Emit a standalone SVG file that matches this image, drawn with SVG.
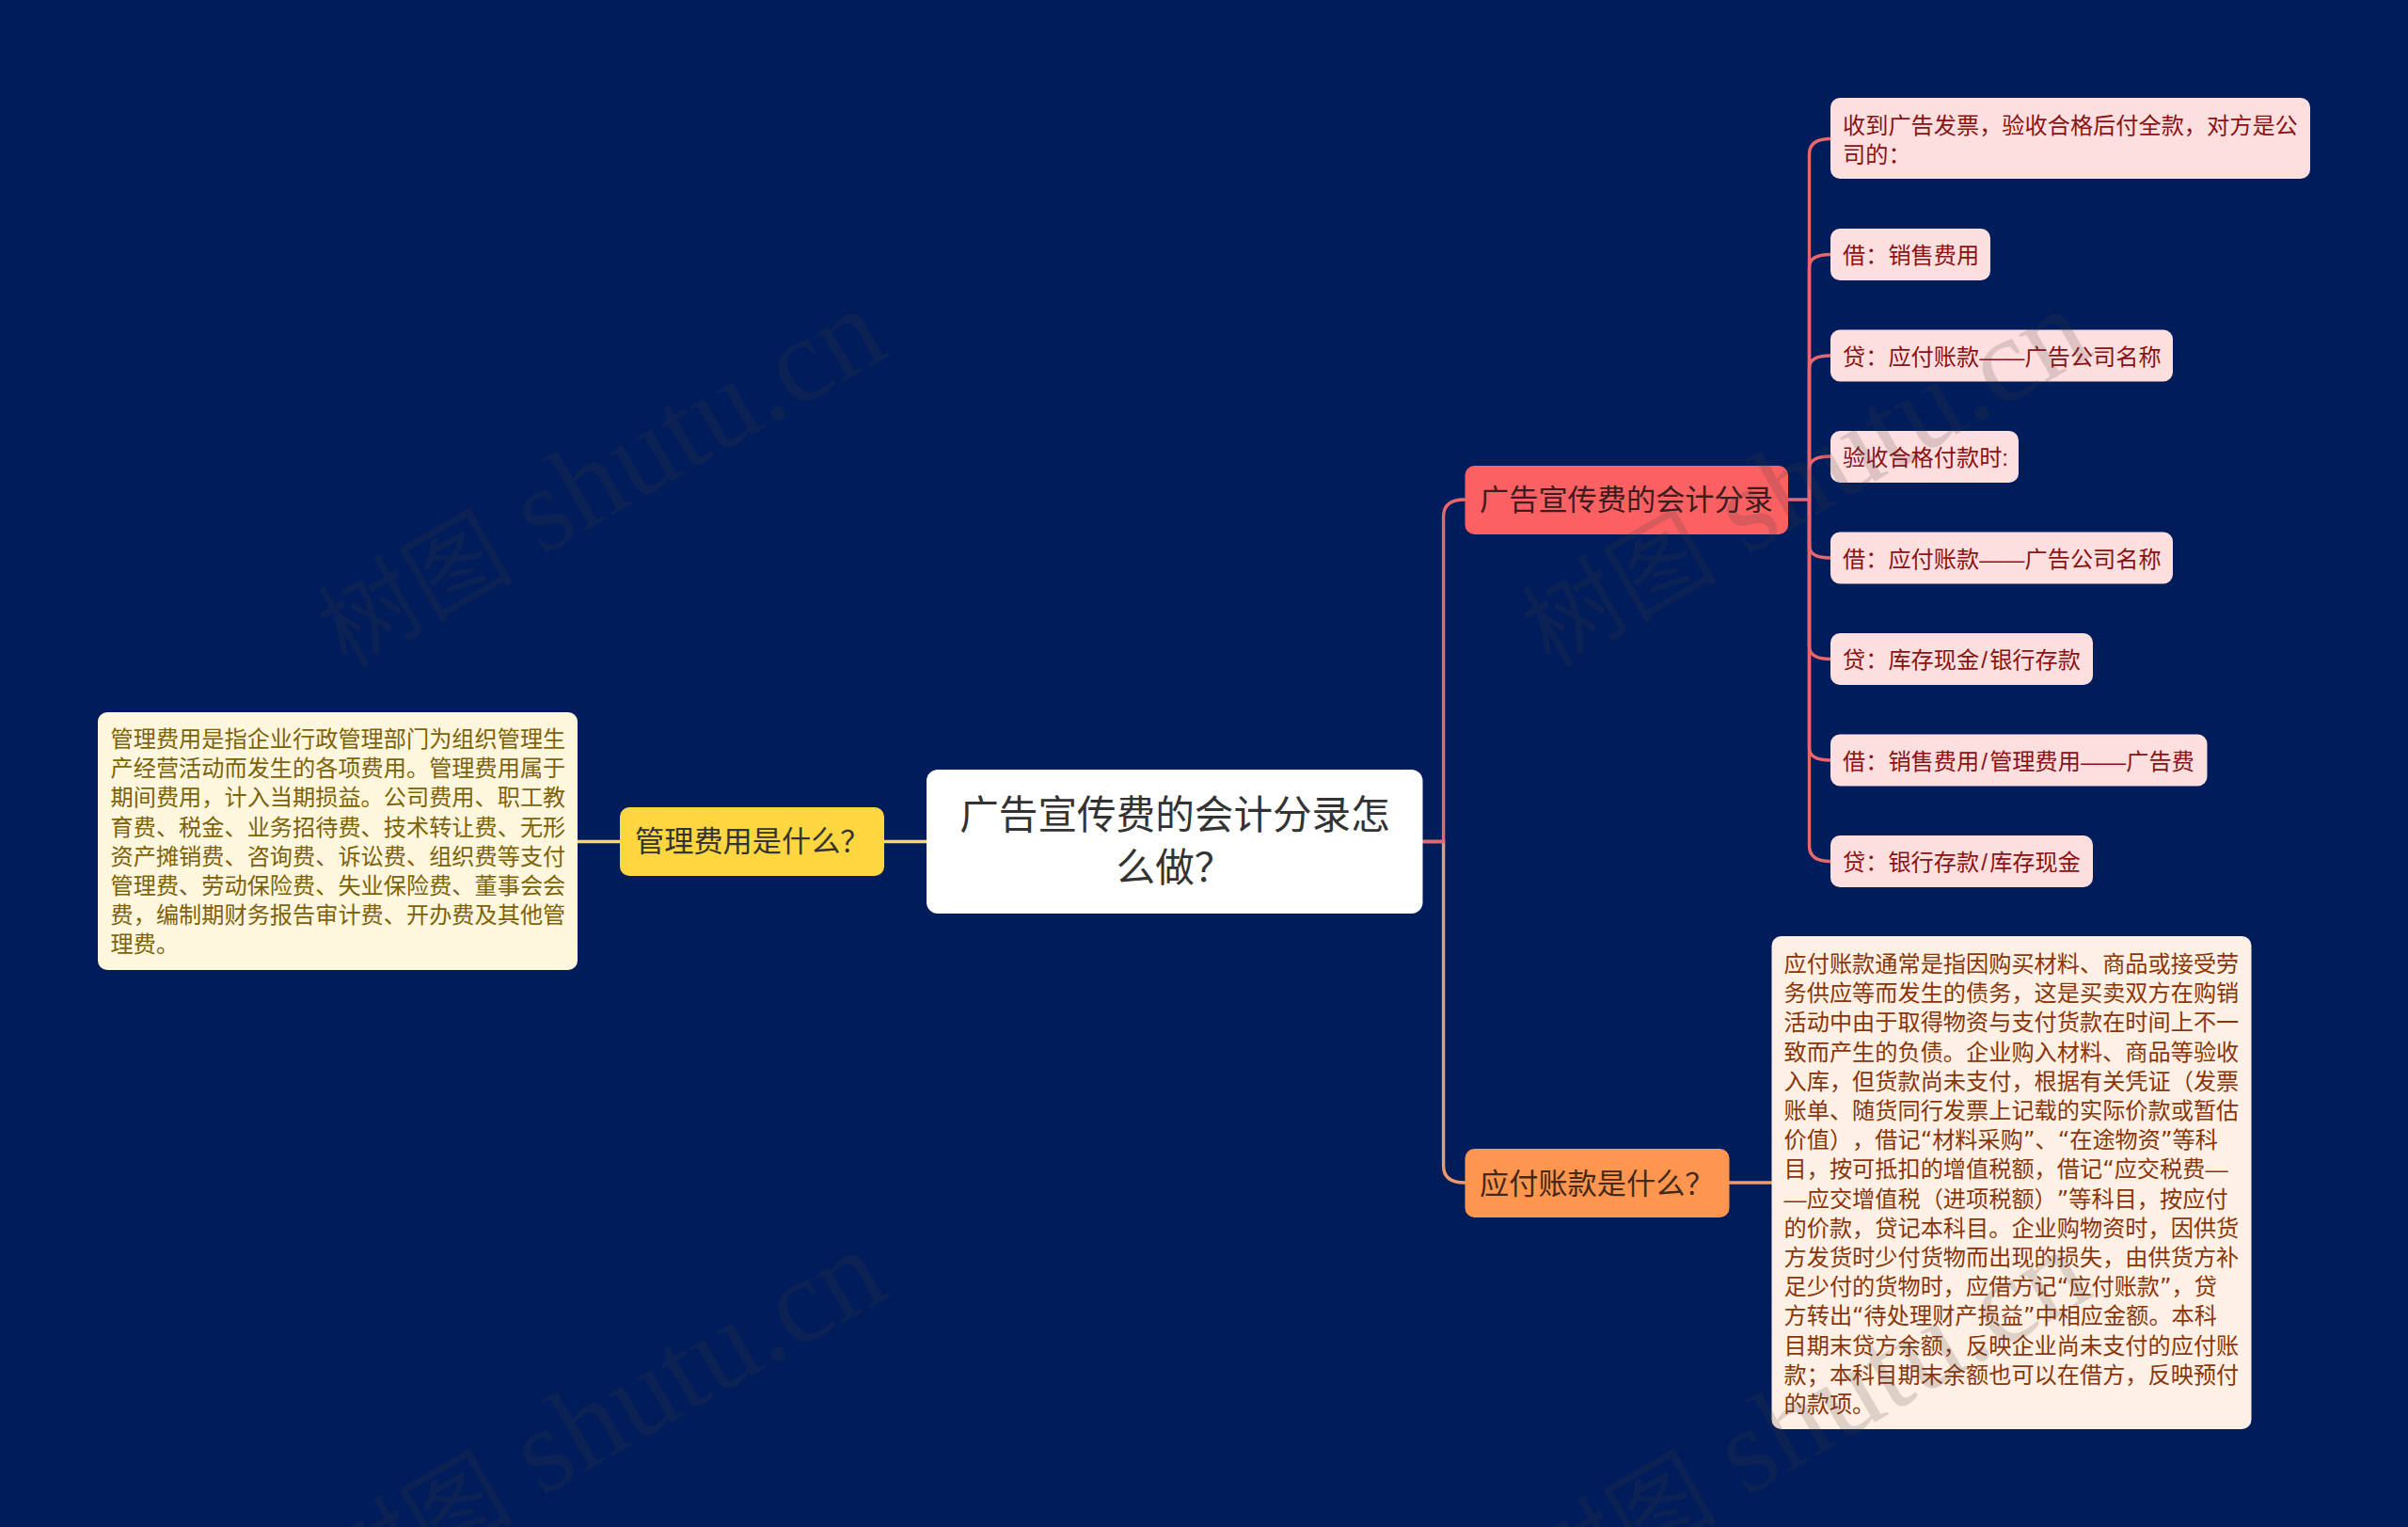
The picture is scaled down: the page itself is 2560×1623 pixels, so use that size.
<svg xmlns="http://www.w3.org/2000/svg" width="2560" height="1623" viewBox="0 0 2560 1623">
<style>
text{font-family:"Liberation Sans","Noto Sans CJK SC",sans-serif;white-space:pre;text-spacing-trim:space-all}
.root{font-size:41.6px;fill:#333;text-anchor:middle}
.br{font-size:31.2px;fill:#333}
.red{fill:#3d1c20}.ora{fill:#43291a}
.lf{font-size:24.2px}
.lr{fill:#8a1212}.ln{fill:#7f6208}.lo{fill:#8a3608}
.q{font-family:"DejaVu Sans","Noto Sans CJK SC",sans-serif}
.wm{font-family:"Liberation Serif","Noto Sans CJK SC",serif;font-size:128px;fill:#404040;fill-opacity:.18}
.wc{font-size:104px}
.c{fill:none;stroke-width:3.4;stroke-linecap:round}
.cr{stroke:#ea666d}.co{stroke:#ef9a68}.cy{stroke:#fddb52}
</style>
<rect width="2560" height="1623" fill="#011c5a"/>
<g id="connectors">
<path class="c cy" d="M985 894.5H940"/>
<path class="c cy" d="M659 894.5H614"/>
<path class="c co" d="M1513 894.5H1534.6V1239Q1534.6 1257 1557 1257"/>
<path class="c co" d="M1839 1257H1883"/>
<path class="c cr" d="M1513 894.5H1534.6V549Q1534.6 531 1557 531"/>
<path class="c cr" d="M1901 531H1923.5V164Q1923.5 147.5 1946 147.5"/>
<path class="c cr" d="M1923.5 531V284Q1923.5 270.5 1946 270.5"/>
<path class="c cr" d="M1923.5 531V391Q1923.5 378 1946 378"/>
<path class="c cr" d="M1923.5 531V498Q1923.5 485 1946 485"/>
<path class="c cr" d="M1923.5 531V580Q1923.5 593 1946 593"/>
<path class="c cr" d="M1923.5 531V687Q1923.5 700.5 1946 700.5"/>
<path class="c cr" d="M1923.5 531V795Q1923.5 808 1946 808"/>
<path class="c cr" d="M1923.5 531V899Q1923.5 915.5 1946 915.5"/>
</g>
<g id="root"><rect x="985" y="818" width="527.5" height="153" rx="12" fill="#fff"/>
<text class="root" x="1249" y="881">广告宣传费的会计分录怎</text><text class="root" x="1249" y="936.5">么做？</text></g>
<g id="branch-manage"><rect x="659" y="858" width="281" height="73" rx="10" fill="#fdd640"/>
<text class="br" x="675" y="905">管理费用是什么？</text></g>
<g id="branch-red"><rect x="1557.5" y="495" width="343.5" height="73" rx="10" fill="#fb6063"/>
<text class="br red" x="1573" y="542">广告宣传费的会计分录</text></g>
<g id="branch-orange"><rect x="1557.5" y="1221" width="281" height="73" rx="10" fill="#fe9650"/>
<text class="br ora" x="1573" y="1269">应付账款是什么？</text></g>
<g id="note-manage"><rect x="104" y="757" width="510" height="274" rx="10" fill="#fef7de"/>
<text class="lf ln" x="117.5" y="794">管理费用是指企业行政管理部门为组织管理生</text>
<text class="lf ln" x="117.5" y="825.2">产经营活动而发生的各项费用。管理费用属于</text>
<text class="lf ln" x="117.5" y="856.4">期间费用，计入当期损益。公司费用、职工教</text>
<text class="lf ln" x="117.5" y="887.6">育费、税金、业务招待费、技术转让费、无形</text>
<text class="lf ln" x="117.5" y="918.8">资产摊销费、咨询费、诉讼费、组织费等支付</text>
<text class="lf ln" x="117.5" y="950">管理费、劳动保险费、失业保险费、董事会会</text>
<text class="lf ln" x="117.5" y="981.2">费，编制期财务报告审计费、开办费及其他管</text>
<text class="lf ln" x="117.5" y="1012.4">理费。</text></g>
<g id="leaf-1"><rect x="1946" y="104" width="510" height="86" rx="10" fill="#fedfe0"/>
<text class="lf lr" x="1959" y="142">收到广告发票，验收合格后付全款，对方是公</text><text class="lf lr" x="1959" y="173">司的：</text></g>
<g id="leaf-2"><rect x="1946" y="243" width="170" height="55" rx="10" fill="#fedfe0"/><text class="lf lr" x="1959" y="280">借：销售费用</text></g>
<g id="leaf-3"><rect x="1946" y="350.5" width="364" height="55" rx="10" fill="#fedfe0"/><text class="lf lr" x="1959" y="387.5">贷：应付账款——广告公司名称</text></g>
<g id="leaf-4"><rect x="1946" y="458" width="200" height="55" rx="10" fill="#fedfe0"/><text class="lf lr" x="1959" y="495">验收合格付款时:</text></g>
<g id="leaf-5"><rect x="1946" y="565.5" width="364" height="55" rx="10" fill="#fedfe0"/><text class="lf lr" x="1959" y="602.5">借：应付账款——广告公司名称</text></g>
<g id="leaf-6"><rect x="1946" y="673" width="279" height="55" rx="10" fill="#fedfe0"/><text class="lf lr" x="1959" y="710">贷：库存现金<tspan dx="2.1">/</tspan><tspan dx="2.2">银行存款</tspan></text></g>
<g id="leaf-7"><rect x="1946" y="780.5" width="400.5" height="55" rx="10" fill="#fedfe0"/><text class="lf lr" x="1959" y="817.5">借：销售费用<tspan dx="2.1">/</tspan><tspan dx="2.2">管理费用——广告费</tspan></text></g>
<g id="leaf-8"><rect x="1946" y="888" width="279" height="55" rx="10" fill="#fedfe0"/><text class="lf lr" x="1959" y="925">贷：银行存款<tspan dx="2.1">/</tspan><tspan dx="2.2">库存现金</tspan></text></g>
<g id="note-orange"><rect x="1883.5" y="995" width="510" height="524" rx="10" fill="#fff0e5"/>
<text class="lf lo" x="1896.5" y="1033">应付账款通常是指因购买材料、商品或接受劳</text>
<text class="lf lo" x="1896.5" y="1064.2">务供应等而发生的债务，这是买卖双方在购销</text>
<text class="lf lo" x="1896.5" y="1095.4">活动中由于取得物资与支付货款在时间上不一</text>
<text class="lf lo" x="1896.5" y="1126.6">致而产生的负债。企业购入材料、商品等验收</text>
<text class="lf lo" x="1896.5" y="1157.8">入库，但货款尚未支付，根据有关凭证（发票</text>
<text class="lf lo" x="1896.5" y="1189">账单、随货同行发票上记载的实际价款或暂估</text>
<text class="lf lo" x="1896.5" y="1220.2">价值），借记<tspan class="q">“</tspan>材料采购<tspan class="q">”</tspan>、<tspan class="q">“</tspan>在途物资<tspan class="q">”</tspan>等科</text>
<text class="lf lo" x="1896.5" y="1251.4">目，按可抵扣的增值税额，借记<tspan class="q">“</tspan>应交税费—</text>
<text class="lf lo" x="1896.5" y="1282.6">—应交增值税（进项税额）<tspan class="q">”</tspan>等科目，按应付</text>
<text class="lf lo" x="1896.5" y="1313.8">的价款，贷记本科目。企业购物资时，因供货</text>
<text class="lf lo" x="1896.5" y="1345">方发货时少付货物而出现的损失，由供货方补</text>
<text class="lf lo" x="1896.5" y="1376.2">足少付的货物时，应借方记<tspan class="q">“</tspan>应付账款<tspan class="q">”</tspan>，贷</text>
<text class="lf lo" x="1896.5" y="1407.4">方转出<tspan class="q">“</tspan>待处理财产损益<tspan class="q">”</tspan>中相应金额。本科</text>
<text class="lf lo" x="1896.5" y="1438.6">目期末贷方余额，反映企业尚未支付的应付账</text>
<text class="lf lo" x="1896.5" y="1469.8">款；本科目期末余额也可以在借方，反映预付</text>
<text class="lf lo" x="1896.5" y="1501">的款项。</text></g>
<g id="watermark">
<text class="wm" transform="translate(368 711) rotate(-30)"><tspan class="wc">树图</tspan> shutu.cn</text>
<text class="wm" transform="translate(1648 711) rotate(-30)"><tspan class="wc">树图</tspan> shutu.cn</text>
<text class="wm" transform="translate(368 1711) rotate(-30)"><tspan class="wc">树图</tspan> shutu.cn</text>
<text class="wm" transform="translate(1648 1711) rotate(-30)"><tspan class="wc">树图</tspan> shutu.cn</text>
</g>
</svg>
